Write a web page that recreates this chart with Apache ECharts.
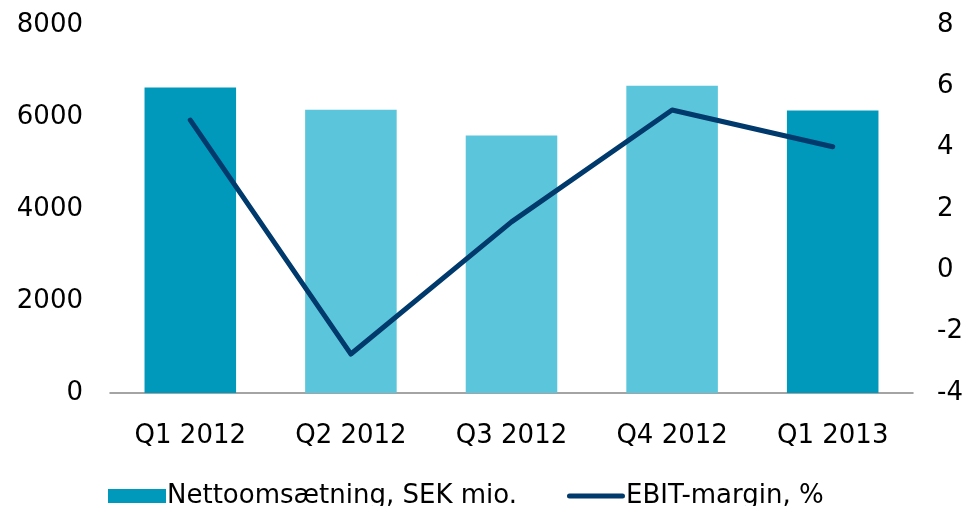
<!DOCTYPE html>
<html><head><meta charset="utf-8">
<script src="https://cdn.jsdelivr.net/npm/echarts@6/dist/echarts.min.js"></script>
<style>html,body{margin:0;padding:0;background:#fff}#c{width:968px;height:506px}</style>
</head><body><div id="c"></div>
<script>
const categories = ['Q1 2012','Q2 2012','Q3 2012','Q4 2012','Q1 2013'];
const salesValues = [6640, 6160, 5600, 6680, 6140];
const ebitMargin = [4.9, -2.73, 1.58, 5.23, 4.03];
const barColors = ['#0099BC','#5BC5DB','#5BC5DB','#5BC5DB','#0099BC'];
const salesName = 'Nettoomsætning, SEK mio.';
const ebitName = 'EBIT-margin, %';

const font = 'DejaVu Sans, Verdana, sans-serif';
const chart = echarts.init(document.getElementById('c'));
chart.setOption({
  animation: false,
  backgroundColor: '#fff',
  grid: {left: 110, right: 55, top: 25, bottom: 113},
  legend: {
    bottom: -8, left: 103, itemGap: 50, itemWidth: 58, itemHeight: 14,
    textStyle: {fontFamily: font, fontSize: 26, color: '#000', padding: [0,0,0,-4]},
    data: [
      {name: salesName, icon: 'rect'},
      {name: ebitName, icon: 'path://M0,0 M58,14 M2.5,4.5 L55.5,4.5 A2.5,2.5 0 0 1 55.5,9.5 L2.5,9.5 A2.5,2.5 0 0 1 2.5,4.5 Z',
       itemStyle: {color: '#00396B', borderWidth: 0}}
    ]
  },
  xAxis: {
    type: 'category', data: categories,
    axisLine: {lineStyle: {color: '#868686', width: 1.5}},
    axisTick: {show: false},
    axisLabel: {fontFamily: font, fontSize: 26, color: '#000', margin: 30}
  },
  yAxis: [
    {type: 'value', min: 0, max: 8000, interval: 2000, splitLine: {show: false},
     axisLabel: {fontFamily: font, fontSize: 26, color: '#000', margin: 27, formatter: v => String(v)}},
    {type: 'value', min: -4, max: 8, interval: 2, splitLine: {show: false},
     axisLabel: {fontFamily: font, fontSize: 26, color: '#000', margin: 24}}
  ],
  series: [
    {name: salesName, type: 'bar', barWidth: '57%', itemStyle: {color: '#0099BC'},
     data: salesValues.map((v,i)=>({value: v, itemStyle: {color: barColors[i]}}))},
    {name: ebitName, type: 'line', yAxisIndex: 1, data: ebitMargin, showSymbol: false,
     symbol: 'none', itemStyle: {color: '#00396B'},
     lineStyle: {color: '#00396B', width: 5, cap: 'round', join: 'round'}}
  ]
});
</script></body></html>
